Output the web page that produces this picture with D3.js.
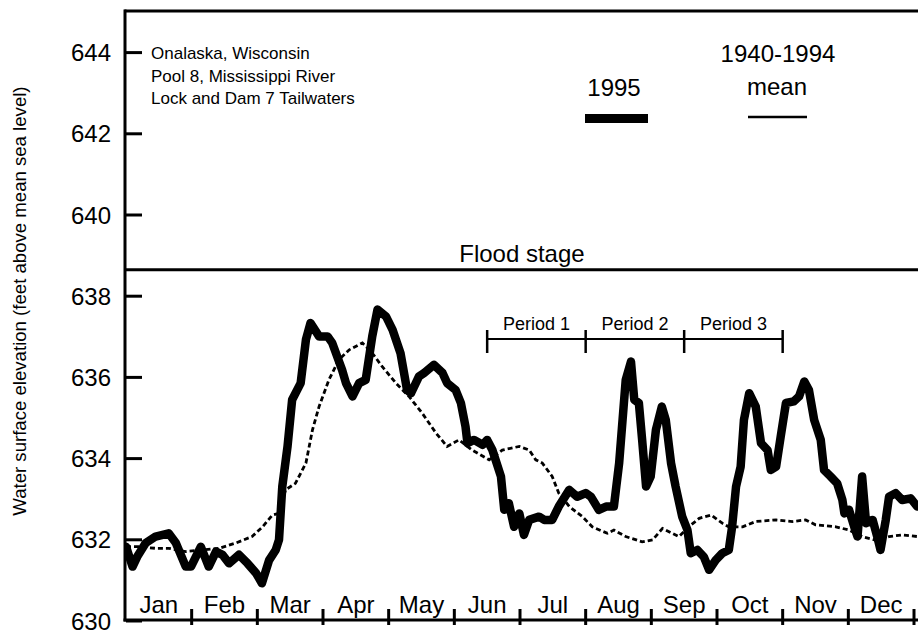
<!DOCTYPE html>
<html>
<head>
<meta charset="utf-8">
<script src="https://cdn.jsdelivr.net/npm/d3@7"></script>
<style>
  body { margin: 0; background: #fff; }
  svg { display: block; font-family: "Liberation Sans", Arial, Helvetica, sans-serif; }
</style>
</head>
<body>
<svg class="chart"></svg>
<script>
// month labels and y tick values
var months = ['Jan', 'Feb', 'Mar', 'Apr', 'May', 'Jun', 'Jul', 'Aug', 'Sep', 'Oct', 'Nov', 'Dec'];
var yTicks = [630, 632, 634, 636, 638, 640, 642, 644];

// 1995 daily stage (x = position in months from Jan 1, y = feet)
var obsMonth = [0, 0.10, 0.17, 0.30, 0.45, 0.65, 0.76, 0.91, 0.99, 1.14, 1.26, 1.37, 1.47, 1.57, 1.72, 1.85, 1.98, 2.07, 2.18, 2.28,
  2.33, 2.38, 2.46, 2.53, 2.66, 2.74, 2.81, 2.94, 3.07, 3.14, 3.29, 3.35, 3.45, 3.55, 3.65, 3.75, 3.83, 3.96, 4.06, 4.18,
  4.28, 4.34, 4.46, 4.54, 4.69, 4.82, 4.89, 5.02, 5.10, 5.17, 5.20, 5.30, 5.43, 5.50, 5.58, 5.71, 5.76, 5.83, 5.91, 5.99,
  6.06, 6.14, 6.29, 6.37, 6.49, 6.59, 6.75, 6.87, 7.00, 7.08, 7.20, 7.31, 7.43, 7.51, 7.61, 7.69, 7.74, 7.81, 7.86, 7.92,
  7.99, 8.07, 8.16, 8.22, 8.30, 8.37, 8.47, 8.55, 8.60, 8.70, 8.80, 8.88, 8.98, 9.08, 9.18, 9.23, 9.29, 9.36, 9.41, 9.49,
  9.59, 9.67, 9.77, 9.82, 9.90, 9.97, 10.05, 10.17, 10.25, 10.33, 10.40, 10.48, 10.58, 10.63, 10.73, 10.83, 10.91, 10.94, 11.01, 11.09,
  11.14, 11.21, 11.27, 11.37, 11.44, 11.49, 11.57, 11.62, 11.72, 11.82, 11.95, 12.05];
var obsStage = [631.83, 631.34, 631.58, 631.92, 632.08, 632.16, 631.92, 631.34, 631.34, 631.83, 631.34, 631.71, 631.63, 631.42, 631.63, 631.42, 631.18, 630.93, 631.50, 631.75,
  632.00, 633.31, 634.30, 635.45, 635.86, 636.93, 637.34, 637.01, 637.01, 636.85, 636.19, 635.86, 635.53, 635.86, 635.94, 637.01, 637.67, 637.50, 637.17, 636.60,
  635.69, 635.61, 636.02, 636.11, 636.31, 636.11, 635.86, 635.69, 635.37, 634.79, 634.38, 634.46, 634.34, 634.46, 634.21, 633.56, 632.74, 632.90, 632.32, 632.65,
  632.12, 632.49, 632.57, 632.49, 632.49, 632.82, 633.23, 633.06, 633.15, 633.06, 632.74, 632.82, 632.82, 633.89, 635.94, 636.39, 635.45, 635.37, 634.46, 633.31,
  633.56, 634.71, 635.28, 634.95, 633.89, 633.31, 632.57, 632.24, 631.67, 631.75, 631.58, 631.26, 631.50, 631.67, 631.75, 632.32, 633.31, 633.80, 634.95, 635.61,
  635.28, 634.38, 634.21, 633.72, 633.80, 634.54, 635.37, 635.41, 635.53, 635.90, 635.69, 634.95, 634.46, 633.72, 633.56, 633.39, 632.98, 632.65, 632.74, 632.32,
  632.08, 633.56, 632.41, 632.49, 632.08, 631.75, 632.49, 633.06, 633.15, 632.98, 633.02, 632.82];

// 1940-1994 mean stage
var meanMonth = [0, 0.20, 0.45, 0.65, 0.91, 1.16, 1.42, 1.67, 1.92, 2.08, 2.23, 2.33, 2.43, 2.58, 2.74, 2.84, 2.94, 3.09, 3.24, 3.40,
  3.60, 3.75, 3.90, 4.11, 4.31, 4.51, 4.72, 4.89, 5.07, 5.27, 5.53, 5.73, 5.99, 6.14, 6.24, 6.34, 6.49, 6.59, 6.75, 6.95,
  7.10, 7.33, 7.43, 7.61, 7.86, 8.02, 8.17, 8.42, 8.57, 8.73, 8.91, 9.08, 9.18, 9.39, 9.59, 9.90, 10.15, 10.35, 10.50, 10.81,
  11.01, 11.21, 11.42, 11.62, 11.82, 12.05];
var meanStage = [631.83, 631.83, 631.79, 631.79, 631.71, 631.75, 631.79, 631.92, 632.08, 632.32, 632.61, 632.65, 633.23, 633.39, 633.89, 634.71, 635.28, 635.94, 636.43, 636.68,
  636.85, 636.60, 636.27, 635.86, 635.53, 635.12, 634.63, 634.30, 634.46, 634.21, 633.97, 634.21, 634.30, 634.21, 633.97, 633.89, 633.56, 633.15, 632.82, 632.57,
  632.32, 632.16, 632.24, 632.08, 631.95, 632.00, 632.28, 632.08, 632.32, 632.53, 632.61, 632.41, 632.32, 632.32, 632.45, 632.49, 632.45, 632.49, 632.37, 632.32,
  632.24, 632.08, 631.99, 632.08, 632.12, 632.08];

var floodStage = 638.65;
var periodEdges = [5.5, 7, 8.5, 10];
var periodNames = ['Period 1', 'Period 2', 'Period 3'];
var siteLines = ['Onalaska, Wisconsin', 'Pool 8, Mississippi River', 'Lock and Dam 7 Tailwaters'];

function drawChart() {
  var width = 918, height = 635;
  var plotLeft = 126, plotRight = 914, plotTop = 12, plotBottom = 621;

  var chart = d3.select('.chart')
      .attr('width', width)
      .attr('height', height);

  var x = d3.scaleLinear().domain([0, 12]).range([plotLeft, plotRight]);
  var y = d3.scaleLinear().domain([630, 645]).range([plotBottom, plotTop]);

  chart.append('clipPath').attr('id', 'plot')
    .append('rect')
      .attr('x', plotLeft).attr('y', plotTop)
      .attr('width', width - plotLeft).attr('height', plotBottom - plotTop);

  //frame: top edge, left axis, bottom axis
  chart.append('line')
      .attr('x1', plotLeft - 1.5).attr('x2', width).attr('y1', y(645) - 1).attr('y2', y(645) - 1)
      .style('stroke', '#000').style('stroke-width', 3);
  chart.append('line')
      .attr('x1', plotLeft - 1).attr('x2', plotLeft - 1).attr('y1', y(645) - 2.5).attr('y2', plotBottom + 0.5)
      .style('stroke', '#000').style('stroke-width', 3);
  chart.append('line')
      .attr('x1', plotLeft - 2.5).attr('x2', width).attr('y1', plotBottom - 1).attr('y2', plotBottom - 1)
      .style('stroke', '#000').style('stroke-width', 3);

  //y ticks point inward
  var yt = chart.selectAll('g.ytick')
      .data(yTicks)
      .enter().append('g')
      .attr('class', 'ytick')
      .attr('transform', function(d) { return 'translate(0,' + y(d) + ')'; });

  yt.append('line')
      .attr('x1', plotLeft).attr('x2', plotLeft + 16)
      .style('stroke', '#000').style('stroke-width', 3);

  yt.append('text')
      .attr('x', plotLeft - 15)
      .attr('dy', '0.36em')
      .attr('text-anchor', 'end')
      .style('font-size', '24px')
      .text(function(d) { return d; });

  //month boundary ticks
  chart.selectAll('line.xtick')
      .data(d3.range(1, 13))
      .enter().append('line')
      .attr('class', 'xtick')
      .attr('x1', function(d) { return x(d); })
      .attr('x2', function(d) { return x(d); })
      .attr('y1', plotBottom - 12).attr('y2', plotBottom + 4)
      .style('stroke', '#000').style('stroke-width', 3);

  chart.selectAll('text.month')
      .data(months)
      .enter().append('text')
      .attr('class', 'month')
      .attr('x', function(d, i) { return x(i + 0.5); })
      .attr('y', plotBottom - 8)
      .attr('text-anchor', 'middle')
      .style('font-size', '24px')
      .text(function(d) { return d; });

  //y axis title
  chart.append('text')
      .attr('transform', 'translate(26,' + y(637.88) + ') rotate(-90)')
      .attr('text-anchor', 'middle')
      .style('font-size', '18.6px')
      .text('Water surface elevation (feet above mean sea level)');

  //flood stage
  chart.append('line')
      .attr('x1', plotLeft).attr('x2', width)
      .attr('y1', y(floodStage)).attr('y2', y(floodStage))
      .style('stroke', '#000').style('stroke-width', 3);
  chart.append('text')
      .attr('x', x(6.03))
      .attr('y', y(floodStage) - 8)
      .attr('text-anchor', 'middle')
      .style('font-size', '24px')
      .text('Flood stage');

  //site description
  chart.selectAll('text.site')
      .data(siteLines)
      .enter().append('text')
      .attr('class', 'site')
      .attr('x', plotLeft + 25)
      .attr('y', function(d, i) { return 59 + i * 22.5; })
      .style('font-size', '17px')
      .text(function(d) { return d; });

  //legend
  chart.append('text').attr('x', 614).attr('y', 96)
      .attr('text-anchor', 'middle').style('font-size', '24px').text('1995');
  chart.append('line').attr('x1', 585).attr('x2', 648).attr('y1', 118.5).attr('y2', 118.5)
      .style('stroke', '#000').style('stroke-width', 9);
  chart.append('text').attr('x', 778).attr('y', 62)
      .attr('text-anchor', 'middle').style('font-size', '24px').text('1940-1994');
  chart.append('text').attr('x', 777).attr('y', 95)
      .attr('text-anchor', 'middle').style('font-size', '24px').text('mean');
  chart.append('line').attr('x1', 748).attr('x2', 807).attr('y1', 117).attr('y2', 117)
      .style('stroke', '#000').style('stroke-width', 2.5);

  //period brackets
  var py = 339;
  chart.append('line')
      .attr('x1', x(periodEdges[0])).attr('x2', x(periodEdges[periodEdges.length - 1]))
      .attr('y1', py).attr('y2', py)
      .style('stroke', '#000').style('stroke-width', 2);
  chart.selectAll('line.ptick')
      .data(periodEdges)
      .enter().append('line')
      .attr('class', 'ptick')
      .attr('x1', function(d) { return x(d); })
      .attr('x2', function(d) { return x(d); })
      .attr('y1', py - 9).attr('y2', py + 14)
      .style('stroke', '#000').style('stroke-width', 2.5);
  chart.selectAll('text.period')
      .data(periodNames)
      .enter().append('text')
      .attr('class', 'period')
      .attr('x', function(d, i) { return x((periodEdges[i] + periodEdges[i + 1]) / 2); })
      .attr('y', py - 9)
      .attr('text-anchor', 'middle')
      .style('font-size', '18px')
      .text(function(d) { return d; });

  //the two stage lines
  var line = d3.line()
      .x(function(d) { return x(d[0]); })
      .y(function(d) { return y(d[1]); });

  chart.append('path')
      .datum(d3.zip(meanMonth, meanStage))
      .attr('clip-path', 'url(#plot)')
      .attr('d', line)
      .style('fill', 'none')
      .style('stroke', '#000')
      .style('stroke-width', 2.8)
      .style('stroke-dasharray', '5,3');

  chart.append('path')
      .datum(d3.zip(obsMonth, obsStage))
      .attr('clip-path', 'url(#plot)')
      .attr('d', line)
      .style('fill', 'none')
      .style('stroke', '#000')
      .style('stroke-width', 8.5)
      .style('stroke-linejoin', 'round')
      .style('stroke-linecap', 'round');
}

drawChart();
</script>
</body>
</html>
